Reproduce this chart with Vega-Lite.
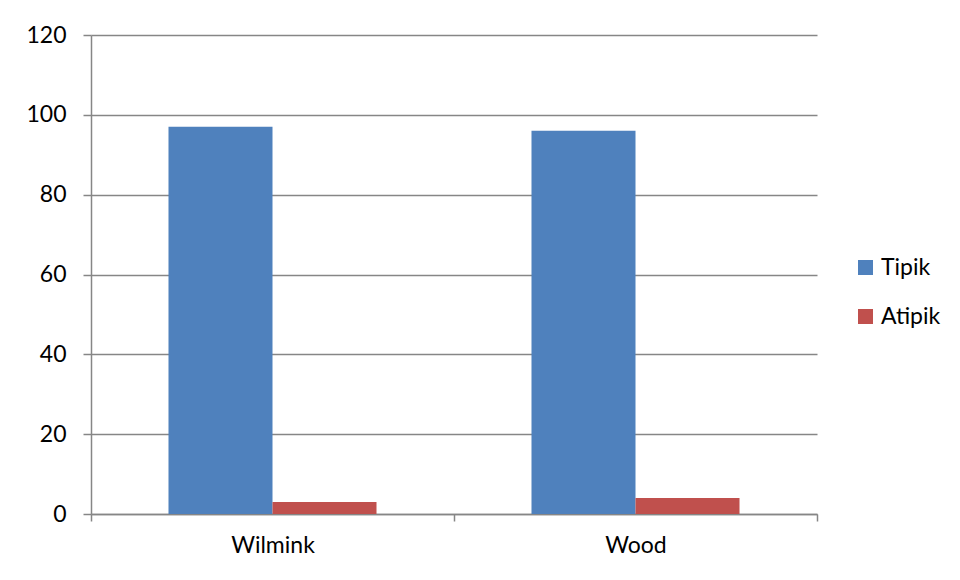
{
  "$schema": "https://vega.github.io/schema/vega-lite/v6.json",
  "width": 726,
  "height": 479,
  "autosize": "none",
  "padding": {"left": 91, "top": 35, "right": 143, "bottom": 66},
  "background": "white",
  "data": {
    "values": [
      {"model": "Wilmink", "tip": "Tipik", "value": 97},
      {"model": "Wilmink", "tip": "Atipik", "value": 3},
      {"model": "Wood", "tip": "Tipik", "value": 96},
      {"model": "Wood", "tip": "Atipik", "value": 4}
    ]
  },
  "mark": {"type": "bar"},
  "encoding": {
    "x": {
      "field": "model",
      "type": "nominal",
      "sort": ["Wilmink", "Wood"],
      "scale": {"paddingInner": 0, "paddingOuter": 0},
      "axis": {
        "title": null,
        "labelAngle": 0,
        "tickBand": "extent",
        "domainColor": "#868686",
        "domainWidth": 1.5,
        "tickColor": "#868686",
        "tickWidth": 1.5,
        "tickSize": 7,
        "labelPadding": 13,
        "labelFont": "Lato",
        "labelFontSize": 23,
        "labelColor": "black",
        "grid": false
      }
    },
    "xOffset": {
      "field": "tip",
      "type": "nominal",
      "sort": ["Tipik", "Atipik"],
      "scale": {"paddingInner": 0, "paddingOuter": 0.745}
    },
    "y": {
      "field": "value",
      "type": "quantitative",
      "scale": {"domain": [0, 120], "nice": false},
      "axis": {
        "title": null,
        "values": [0, 20, 40, 60, 80, 100, 120],
        "grid": true,
        "gridColor": "#868686",
        "gridWidth": 1.5,
        "domainColor": "#868686",
        "domainWidth": 1.5,
        "tickColor": "#868686",
        "tickWidth": 1.5,
        "tickSize": 8,
        "labelPadding": 17,
        "labelFont": "Lato",
        "labelFontSize": 23,
        "labelColor": "black"
      }
    },
    "color": {
      "field": "tip",
      "type": "nominal",
      "sort": ["Tipik", "Atipik"],
      "scale": {"domain": ["Tipik", "Atipik"], "range": ["#4F81BD", "#C0504D"]},
      "legend": {
        "title": null,
        "orient": "none",
        "legendX": 763,
        "legendY": 221,
        "symbolType": "square",
        "symbolSize": 225,
        "symbolStrokeWidth": 0,
        "labelFont": "Lato",
        "labelFontSize": 23,
        "labelColor": "black",
        "labelOffset": 4,
        "rowPadding": 25
      }
    }
  },
  "config": {"view": {"stroke": null}}
}
